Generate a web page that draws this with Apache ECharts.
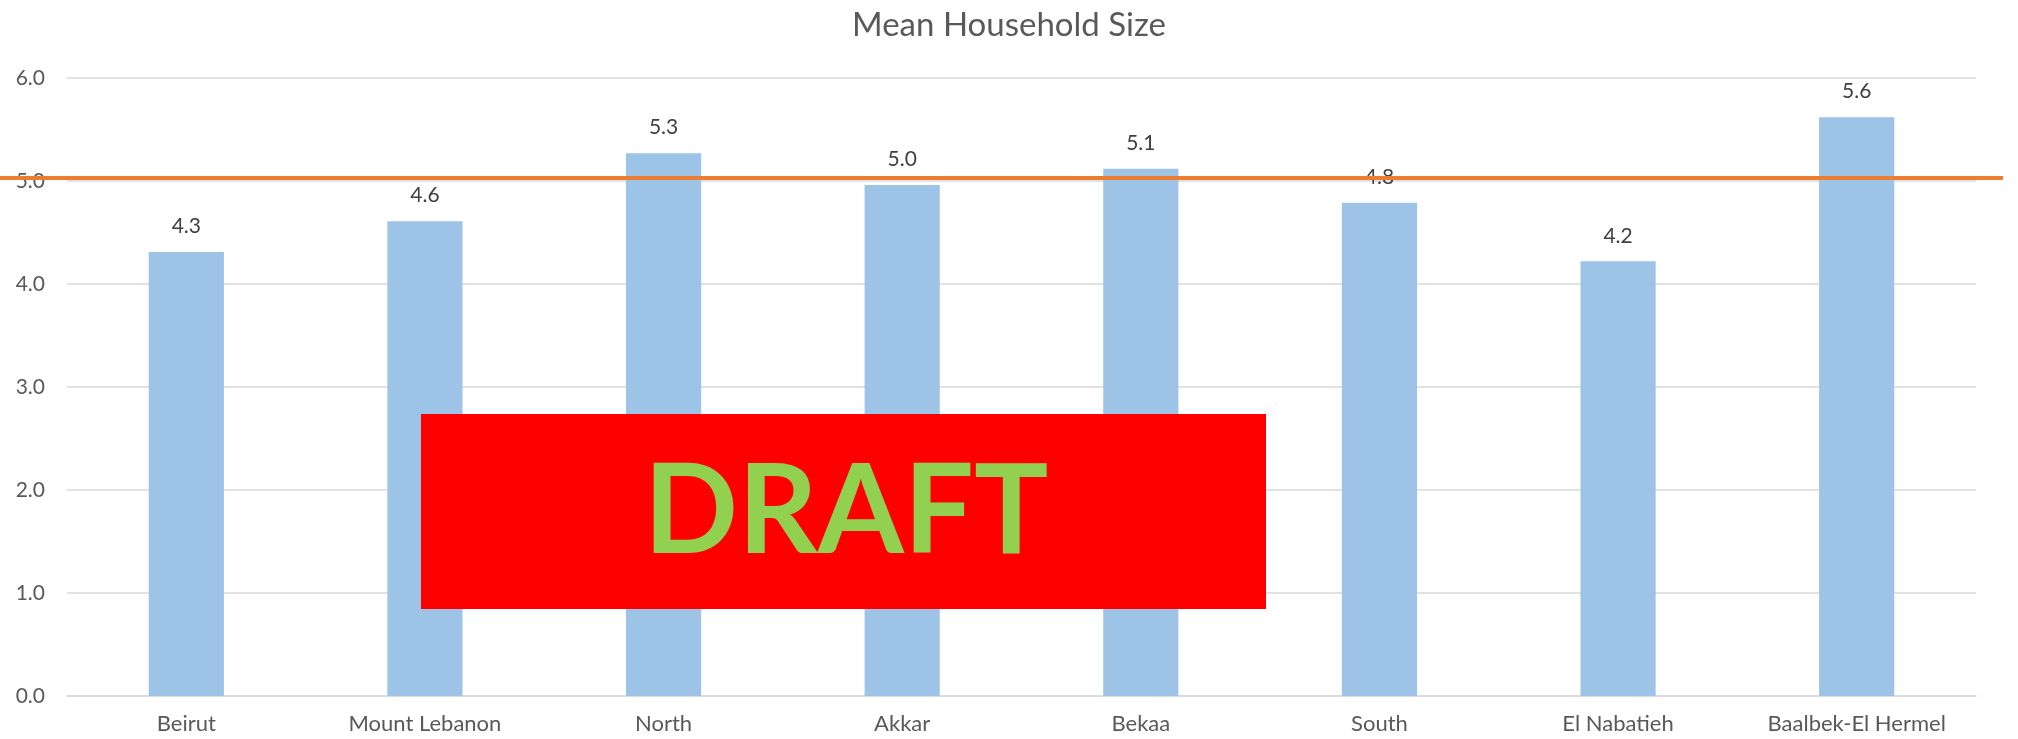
<!DOCTYPE html>
<html>
<head>
<meta charset="utf-8">
<title>Mean Household Size</title>
<script src="https://cdn.jsdelivr.net/npm/echarts@6/dist/echarts.min.js"></script>
<style>
  html, body { margin: 0; padding: 0; background: #fff; }
  #container { width: 2018px; height: 739px; }
</style>
</head>
<body>
<div id="container"></div>
<script>
var dom = document.getElementById("container");
var myChart = echarts.init(dom, null, { renderer: "canvas" });
var option;

const regions = [
  "Beirut",
  "Mount Lebanon",
  "North",
  "Akkar",
  "Bekaa",
  "South",
  "El Nabatieh",
  "Baalbek-El Hermel",
];
const meanSize = [4.31, 4.61, 5.27, 4.96, 5.12, 4.79, 4.22, 5.62];
// national average line, drawn across the whole width
const refLevel = 5.03;
const refSpan = [0, 1];

const textColor = "#595959";
const fontName = "Lato";

option = {
  backgroundColor: "#ffffff",
  animation: false,
  title: {
    text: "Mean Household Size",
    left: "center",
    top: 4,
    textStyle: {
      fontFamily: fontName,
      fontSize: 33,
      fontWeight: "normal",
      color: textColor,
    },
  },
  grid: [
    { left: 67, right: 42, top: 78, bottom: 43 },
    { left: 0, right: 15, top: 78, bottom: 43 },
  ],
  xAxis: [
    {
      type: "category",
      gridIndex: 0,
      data: regions,
      axisLine: { lineStyle: { color: "#D9D9D9", width: 1.5 } },
      axisTick: { show: false },
      axisLabel: {
        color: textColor,
        fontFamily: fontName,
        fontSize: 22,
        margin: 17,
      },
    },
    {
      type: "value",
      gridIndex: 1,
      min: 0,
      max: 1,
      show: false,
    },
  ],
  yAxis: [
    {
      type: "value",
      gridIndex: 0,
      min: 0,
      max: 6,
      interval: 1,
      axisLine: { show: false },
      axisTick: { show: false },
      splitLine: { lineStyle: { color: "#D9D9D9", width: 1.5 } },
      axisLabel: {
        color: textColor,
        fontFamily: fontName,
        fontSize: 21,
        margin: 22,
        formatter: function (v) {
          return v.toFixed(1);
        },
      },
    },
    {
      type: "value",
      gridIndex: 1,
      min: 0,
      max: 6,
      show: false,
    },
  ],
  series: [
    {
      type: "bar",
      xAxisIndex: 0,
      yAxisIndex: 0,
      data: meanSize,
      barWidth: "31.5%",
      itemStyle: { color: "#9DC3E6" },
      label: {
        show: true,
        position: "top",
        distance: 15,
        color: "#404040",
        fontFamily: fontName,
        fontSize: 21,
        formatter: function (p) {
          return p.value.toFixed(1);
        },
      },
      z: 2,
    },
    {
      type: "line",
      xAxisIndex: 1,
      yAxisIndex: 1,
      data: refSpan.map(function (x) {
        return [x, refLevel];
      }),
      symbol: "none",
      lineStyle: { color: "#ED7D31", width: 4 },
      silent: true,
      z: 5,
    },
  ],
  graphic: {
    elements: [
      {
        type: "rect",
        left: 421,
        top: 414,
        z: 100,
        shape: { width: 845, height: 195 },
        style: { fill: "#FF0000" },
      },
      {
        type: "text",
        x: 846,
        y: 513,
        z: 101,
        style: {
          text: "DRAFT",
          fill: "#92D050",
          font: "bold 124px Lato",
          textAlign: "center",
          textVerticalAlign: "middle",
        },
      },
    ],
  },
};

myChart.setOption(option);
window.addEventListener("resize", myChart.resize);
</script>
</body>
</html>
